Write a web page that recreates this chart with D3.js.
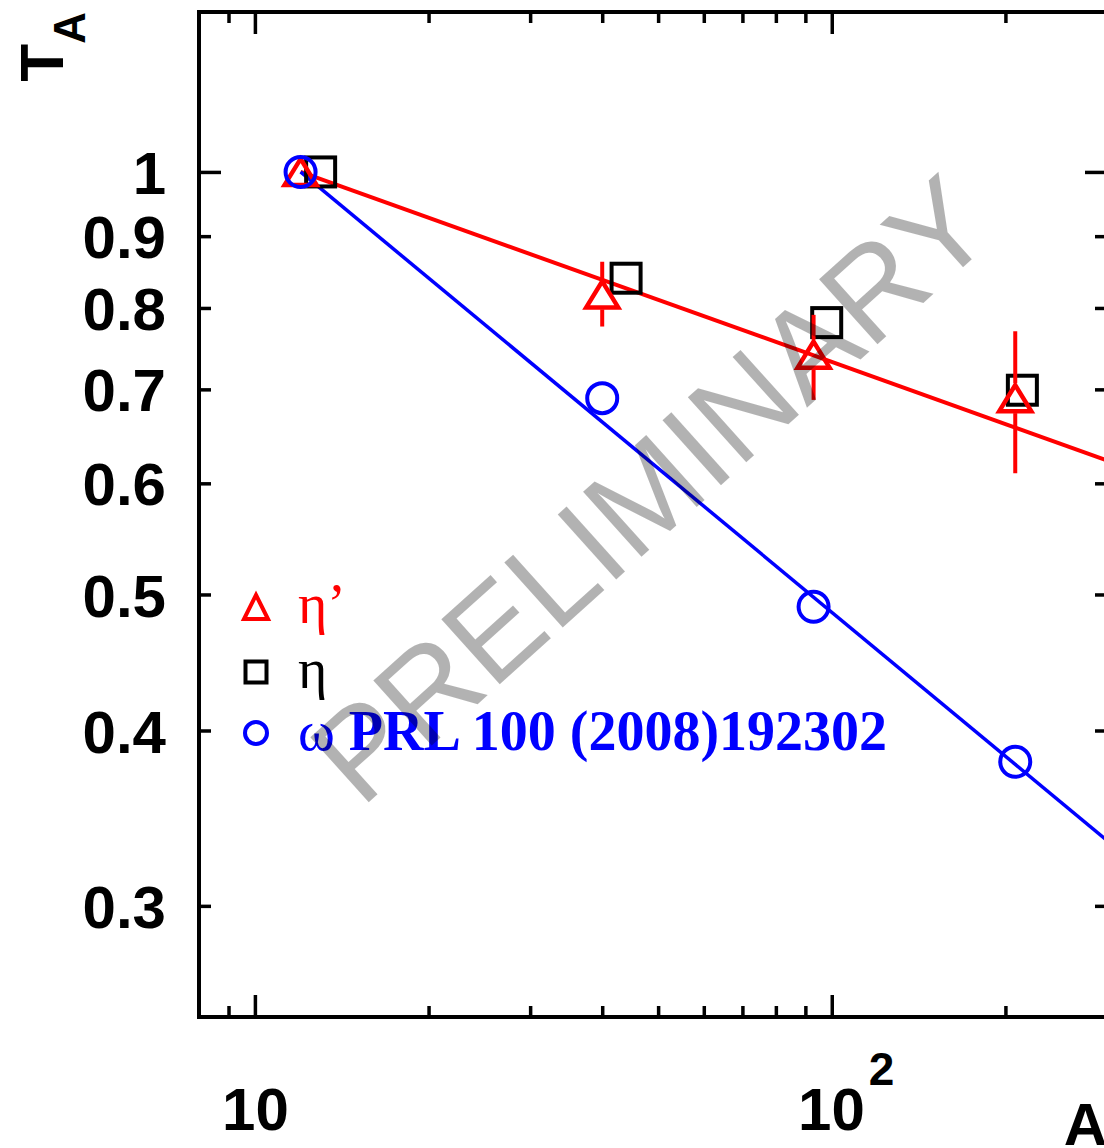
<!DOCTYPE html>
<html>
<head>
<meta charset="utf-8">
<script src="https://cdnjs.cloudflare.com/ajax/libs/d3/7.8.5/d3.min.js"></script>
<style>
  body { margin: 0; background: #fff; }
  svg { display: block; }
</style>
</head>
<body>
<div id="chart"></div>
<script>
// transparency ratio T_A vs mass number A (log-log)

// eta' (triangles, with errors)
var etaPrimeA = [12, 40, 93, 208];
var etaPrimeT = [1.0, 0.818, 0.741, 0.69];
var etaPrimeLow = [1.0, 0.776, 0.688, 0.61];
var etaPrimeHigh = [1.0, 0.863, 0.791, 0.77];

// eta (squares, drawn slightly right of the eta')
var etaA = [13, 44, 98, 214];
var etaT = [1.0, 0.84, 0.781, 0.699];

// omega (circles) PRL 100 (2008) 192302
var omegaA = [12, 40, 93, 208];
var omegaT = [1.0, 0.69, 0.49, 0.38];

// fit lines, end points
var fitA = [12, 300];
var fitEtaPrime = [1.0, 0.623];
var fitOmega = [1.0, 0.334];

// ticks
var xMajor = [10, 100];
var xMinor = [9, 20, 30, 40, 50, 60, 70, 80, 90, 200];
var yMajor = [1];
var yMinor = [0.3, 0.4, 0.5, 0.6, 0.7, 0.8, 0.9];

var legendLabels = ["η’", "η", "ω"];
var legendRef = " PRL 100 (2008)192302";

(function () {
    const W = 1104, H = 1148;
    const left = 199, right = 1107, top = 12, bottom = 1017;

    const svg = d3.select("#chart").append("svg")
        .attr("width", W)
        .attr("height", H);

    const x = d3.scaleLog().domain([8, 300]).range([left, right]);
    const y = d3.scaleLog().domain([0.25, 1.3]).range([bottom, top]);

    const sans = "'Liberation Sans', Arial, Helvetica, sans-serif";
    const serif = "'Liberation Serif', 'Times New Roman', serif";

    // axes, ticks pointing inwards on all four sides
    function styleAxis(g) {
        g.select(".domain").remove();
        g.selectAll(".tick line").attr("stroke", "#000").attr("stroke-width", 3.5);
    }

    // bottom
    svg.append("g").attr("transform", "translate(0," + bottom + ")")
        .call(d3.axisBottom(x).tickValues(xMinor).tickSize(-11).tickFormat(""))
        .call(styleAxis);
    const xLab = svg.append("g").attr("transform", "translate(0," + bottom + ")")
        .call(d3.axisBottom(x).tickValues(xMajor).tickSize(-22).tickPadding(70)
            .tickFormat(d => "10"))
        .call(styleAxis);
    xLab.selectAll(".tick text")
        .attr("font-family", sans)
        .attr("font-weight", "bold")
        .attr("font-size", 60)
        .attr("fill", "#000")
        .attr("x", d => d === 100 ? 14 : 0);
    xLab.selectAll(".tick text").filter(d => d === 100)
        .append("tspan")
        .attr("font-size", 46)
        .attr("dx", 4)
        .attr("dy", -45)
        .text("2");

    // top
    svg.append("g").attr("transform", "translate(0," + top + ")")
        .call(d3.axisTop(x).tickValues(xMinor).tickSize(-11).tickFormat(""))
        .call(styleAxis);
    svg.append("g").attr("transform", "translate(0," + top + ")")
        .call(d3.axisTop(x).tickValues(xMajor).tickSize(-22).tickFormat(""))
        .call(styleAxis);

    // left
    const yLab = svg.append("g").attr("transform", "translate(" + left + ",0)")
        .call(d3.axisLeft(y).tickValues(yMinor).tickSize(-12).tickPadding(33)
            .tickFormat(d => String(d)))
        .call(styleAxis);
    const yLab2 = svg.append("g").attr("transform", "translate(" + left + ",0)")
        .call(d3.axisLeft(y).tickValues(yMajor).tickSize(-22).tickPadding(33)
            .tickFormat(d => String(d)))
        .call(styleAxis);
    [yLab, yLab2].forEach(g => g.selectAll(".tick text")
        .attr("font-family", sans)
        .attr("font-weight", "bold")
        .attr("font-size", 60)
        .attr("fill", "#000")
        .attr("dy", "0.36em"));

    // right
    svg.append("g").attr("transform", "translate(" + right + ",0)")
        .call(d3.axisRight(y).tickValues(yMinor).tickSize(-12).tickFormat(""))
        .call(styleAxis);
    svg.append("g").attr("transform", "translate(" + right + ",0)")
        .call(d3.axisRight(y).tickValues(yMajor).tickSize(-22).tickFormat(""))
        .call(styleAxis);

    // frame
    svg.append("rect")
        .attr("x", left).attr("y", top)
        .attr("width", right - left).attr("height", bottom - top)
        .attr("fill", "none").attr("stroke", "#000").attr("stroke-width", 4);

    // axis titles (A sits at the far right, cut by the page edge as in the original)
    svg.append("text")
        .attr("x", right).attr("y", 1145)
        .attr("text-anchor", "end")
        .attr("font-family", sans).attr("font-weight", "bold").attr("font-size", 60)
        .text("A");

    const yt = svg.append("text")
        .attr("transform", "translate(63," + top + ") rotate(-90)")
        .attr("text-anchor", "end")
        .attr("font-family", sans).attr("font-weight", "bold").attr("font-size", 62);
    yt.append("tspan").text("T");
    yt.append("tspan").attr("font-size", 44).attr("dy", 22).text("A");

    // fit lines
    const line = d3.line().x(d => x(d[0])).y(d => y(d[1]));
    svg.append("path")
        .attr("d", line(d3.zip(fitA, fitEtaPrime)))
        .attr("fill", "none").attr("stroke", "#ff0000").attr("stroke-width", 4);
    svg.append("path")
        .attr("d", line(d3.zip(fitA, fitOmega)))
        .attr("fill", "none").attr("stroke", "#0000ff").attr("stroke-width", 3.5);

    // marker shapes
    const tri = (w, h) => "M0," + (-h / 2) + "L" + (w / 2) + "," + (h / 2) + "L" + (-w / 2) + "," + (h / 2) + "Z";

    // eta squares
    svg.append("g").selectAll("rect")
        .data(d3.zip(etaA, etaT))
        .join("rect")
        .attr("x", d => x(d[0]) - 14.5).attr("y", d => y(d[1]) - 14.5)
        .attr("width", 29).attr("height", 29)
        .attr("fill", "none").attr("stroke", "#000").attr("stroke-width", 4);

    // eta' error bars, split around the marker
    const ep = etaPrimeA.map((a, i) => ({ a: a, t: etaPrimeT[i], lo: etaPrimeLow[i], hi: etaPrimeHigh[i] }));
    const eb = svg.append("g").attr("stroke", "#ff0000").attr("stroke-width", 4);
    ep.forEach(function (d) {
        const cx = x(d.a), cy = y(d.t);
        if (y(d.hi) < cy - 15) {
            eb.append("line").attr("x1", cx).attr("x2", cx).attr("y1", y(d.hi)).attr("y2", cy - 15);
        }
        if (y(d.lo) > cy + 15) {
            eb.append("line").attr("x1", cx).attr("x2", cx).attr("y1", cy + 15).attr("y2", y(d.lo));
        }
    });

    // eta' triangles
    svg.append("g").selectAll("path")
        .data(ep)
        .join("path")
        .attr("transform", d => "translate(" + x(d.a) + "," + y(d.t) + ")")
        .attr("d", tri(32, 26))
        .attr("fill", "none").attr("stroke", "#ff0000").attr("stroke-width", 4.5)
        .attr("stroke-linejoin", "miter");

    // omega circles
    svg.append("g").selectAll("circle")
        .data(d3.zip(omegaA, omegaT))
        .join("circle")
        .attr("cx", d => x(d[0])).attr("cy", d => y(d[1]))
        .attr("r", 15)
        .attr("fill", "none").attr("stroke", "#0000ff").attr("stroke-width", 4);

    // legend
    const legX = 256, legY = [607, 672, 733], legBase = [623, 688, 750];
    const leg = svg.append("g");
    leg.append("path")
        .attr("transform", "translate(" + legX + "," + legY[0] + ")")
        .attr("d", tri(24, 24))
        .attr("fill", "none").attr("stroke", "#ff0000").attr("stroke-width", 4);
    leg.append("rect")
        .attr("x", legX - 10.5).attr("y", legY[1] - 10.5)
        .attr("width", 21).attr("height", 21)
        .attr("fill", "none").attr("stroke", "#000").attr("stroke-width", 4);
    leg.append("circle")
        .attr("cx", legX).attr("cy", legY[2]).attr("r", 11)
        .attr("fill", "none").attr("stroke", "#0000ff").attr("stroke-width", 4);

    const legColors = ["#ff0000", "#000000", "#0000ff"];
    legendLabels.forEach(function (lab, i) {
        const t = leg.append("text")
            .attr("x", 298).attr("y", legBase[i])
            .attr("font-family", serif).attr("font-size", 56)
            .attr("fill", legColors[i])
            .text(lab);
        if (i === 2) {
            t.append("tspan").attr("font-weight", "bold").text(legendRef);
        }
    });

    // watermark on top
    svg.append("text")
        .attr("transform", "translate(680,522) rotate(-42)")
        .attr("text-anchor", "middle")
        .attr("font-family", sans).attr("font-size", 127)
        .attr("fill", "#000").attr("fill-opacity", 0.3)
        .text("PRELIMINARY");
})();
</script>
</body>
</html>
